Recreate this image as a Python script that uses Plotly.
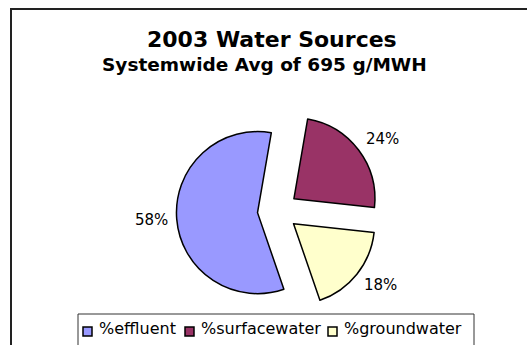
import math
import plotly.graph_objects as go

# Water source shares (percent of 2003 systemwide use)
categories = ["%effluent", "%surfacewater", "%groundwater"]
shares = [58, 24, 18]
colors = ["#9999FF", "#993366", "#FFFFCC"]

title_text = "2003 Water Sources"
subtitle_text = "Systemwide Avg of 695 g/MWH"

W, H = 527, 345


def px_x(x):
    return x / W


def px_y(y):
    return 1 - y / H


# pie placement (pixels): centre and half-size of the square domain
cx, cy, half = 277.7, 211.0, 101.3
start_angle = 161      # degrees clockwise from 12 o'clock
label_gap = 110        # distance from pie centre to the nearest corner of a label, px
label_w, label_h = 33, 11

fig = go.Figure()
fig.add_trace(go.Pie(
    labels=categories,
    values=shares,
    marker=dict(colors=colors, line=dict(color="black", width=1.5)),
    sort=False,
    direction="clockwise",
    rotation=start_angle,
    pull=[0.25, 0.25, 0.25],
    textinfo="none",
    domain=dict(x=[px_x(cx - half), px_x(cx + half)],
                y=[px_y(cy + half), px_y(cy - half)]),
    showlegend=False,
    hoverinfo="label+percent",
))

shapes = [
    # chart frame (runs past the right and bottom edges)
    dict(type="rect", xref="paper", yref="paper",
         x0=px_x(11), x1=px_x(560), y0=px_y(380), y1=px_y(9),
         line=dict(color="#222222", width=2), fillcolor="rgba(0,0,0,0)"),
    # legend box
    dict(type="rect", xref="paper", yref="paper",
         x0=px_x(78), x1=px_x(474), y0=px_y(370), y1=px_y(314),
         line=dict(color="#333333", width=1), fillcolor="rgba(0,0,0,0)"),
]

annotations = [
    dict(text=f"<b>{title_text}</b>", x=px_x(272), y=px_y(39.5), xref="paper", yref="paper",
         xanchor="center", yanchor="middle", showarrow=False,
         font=dict(family="DejaVu Sans", size=22, color="black")),
    dict(text=f"<b>{subtitle_text}</b>", x=px_x(264), y=px_y(64.5), xref="paper", yref="paper",
         xanchor="center", yanchor="middle", showarrow=False,
         font=dict(family="DejaVu Sans", size=18.5, color="black")),
]

# percent labels: nearest corner sits on the slice bisector
total = sum(shares)
acc = 0
for s in shares:
    mid = math.radians(start_angle + 360 * (acc + s / 2) / total)
    acc += s
    dx, dy = math.sin(mid), -math.cos(mid)
    sx = 1 if dx > 0 else -1
    sy = 0 if abs(dy) < 0.3 else (1 if dy > 0 else -1)
    lx = cx + label_gap * dx + sx * label_w / 2
    ly = cy + label_gap * dy + sy * label_h / 2
    annotations.append(dict(text=f"{s / total * 100:.0f}%", x=px_x(lx), y=px_y(ly),
                            xref="paper", yref="paper", xanchor="center", yanchor="middle",
                            showarrow=False,
                            font=dict(family="DejaVu Sans", size=15, color="black")))

# legend entries: swatch left edges in pixels
legend_x = [83, 185, 328]
for name, color, lx in zip(categories, colors, legend_x):
    shapes.append(dict(type="rect", xref="paper", yref="paper",
                       x0=px_x(lx), x1=px_x(lx + 9), y0=px_y(336), y1=px_y(327),
                       line=dict(color="black", width=1.5), fillcolor=color))
    annotations.append(dict(text=name, x=px_x(lx + 14), y=px_y(328.5),
                            xref="paper", yref="paper", xanchor="left", yanchor="middle",
                            showarrow=False,
                            font=dict(family="DejaVu Sans", size=16, color="black")))

fig.update_layout(
    width=W, height=H,
    margin=dict(l=0, r=0, t=0, b=0, autoexpand=False),
    paper_bgcolor="white",
    plot_bgcolor="white",
    shapes=shapes,
    annotations=annotations,
)

fig.write_html("out.html")
